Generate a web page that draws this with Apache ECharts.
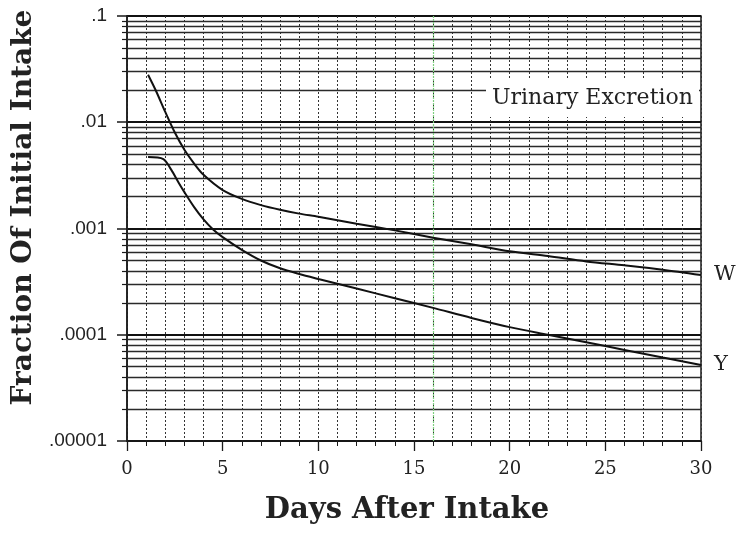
<!DOCTYPE html>
<html>
<head>
<meta charset="utf-8">
<script src="https://cdn.jsdelivr.net/npm/echarts@6/dist/echarts.min.js"></script>
<style>
  html, body { margin: 0; padding: 0; background: #fff; }
  #chart { width: 752px; height: 538px; }
</style>
</head>
<body>
<div id="chart"></div>
<script>
// Urinary excretion curves (fraction of initial intake per day)
const daysW = [1.1, 1.5, 2, 2.5, 3, 3.5, 4, 5, 6, 7, 8, 9, 10, 12, 14, 16, 18, 20, 22, 24, 26, 28, 30];
const fracW = [0.028, 0.020, 0.0125, 0.0080, 0.0055, 0.0041, 0.0032, 0.0023, 0.0019, 0.00166, 0.0015, 0.00138, 0.00129, 0.00111, 0.00096, 0.00082, 0.00071, 0.00061, 0.00055, 0.00049, 0.00045, 0.00041, 0.000365];

const daysY = [1.1, 1.9, 2.3, 2.7, 3, 3.5, 4, 4.5, 5, 6, 7, 8, 9, 10, 12, 14, 16, 18, 20, 22, 24, 26, 28, 30];
const fracY = [0.0047, 0.0045, 0.0036, 0.0027, 0.0022, 0.0016, 0.00122, 0.00098, 0.00083, 0.00063, 0.0005, 0.000422, 0.000373, 0.000335, 0.000272, 0.000221, 0.000179, 0.000144, 0.000118, 0.0001, 0.000085, 0.000072, 0.000061, 0.000052];

const seriesNames = ['W', 'Y'];

// Decade tick labels on the log axis
const decadeValues = [0.00001, 0.0001, 0.001, 0.01, 0.1];
const decadeLabels = ['.00001', '.0001', '.001', '.01', '.1'];

const xLabelStep = 5;
const noteText = 'Urinary Excretion';
const xTitle = 'Days After Intake';
const yTitle = 'Fraction Of Initial Intake';
const highlightedDay = 16;

// Log-paper rulings between decades: 2..9 x 10^k
const minorRulings = [];
for (let k = -5; k <= -2; k++) {
  for (let m = 2; m <= 9; m++) minorRulings.push(+(m * Math.pow(10, k)).toPrecision(3));
}

function decadeLabel(v) {
  const e = Math.round(Math.log10(v));
  const i = decadeValues.findIndex(d => Math.round(Math.log10(d)) === e);
  return i >= 0 ? decadeLabels[i] : '';
}

const serif = 'DejaVu Serif';
const ink = '#1a1a1a';

const chart = echarts.init(document.getElementById('chart'), null, { renderer: 'canvas' });

chart.setOption({
  animation: false,
  backgroundColor: '#fff',
  grid: {
    left: 127, right: 51, top: 16, bottom: 97,
    show: true, borderColor: ink, borderWidth: 1.5, backgroundColor: 'transparent'
  },
  xAxis: {
    type: 'value',
    min: 0, max: 30, interval: xLabelStep,
    name: xTitle,
    nameLocation: 'middle',
    nameGap: 55,
    nameTextStyle: { fontFamily: serif, fontWeight: 'bold', fontSize: 29, color: '#222', padding: [0, 14, 0, 0] },
    axisLine: { show: true, onZero: false, lineStyle: { color: ink, width: 1.5 } },
    axisTick: { show: true, length: 10, lineStyle: { color: ink, width: 1.3 } },
    minorTick: { show: true, splitNumber: 5, length: 5, lineStyle: { color: ink, width: 1 } },
    axisLabel: { fontFamily: serif, fontSize: 18, color: '#222', margin: 19 },
    splitLine: { show: true, lineStyle: { color: '#333', width: 1, type: [2, 2] } },
    minorSplitLine: { show: true, lineStyle: { color: '#333', width: 1, type: [2, 2] } }
  },
  yAxis: [
    {
      type: 'log',
      logBase: 10,
      min: 0.00001, max: 0.1,
      name: yTitle,
      nameLocation: 'middle',
      nameGap: 86,
      nameTextStyle: { fontFamily: serif, fontWeight: 'bold', fontSize: 28, color: '#222', padding: [0, 0, 0, 42] },
      axisLine: { show: true, lineStyle: { color: ink, width: 1.5 } },
      axisTick: { show: true, length: 10, lineStyle: { color: ink, width: 1.5 } },
      axisLabel: { fontFamily: 'Liberation Sans', fontSize: 19, color: '#222', margin: 20, formatter: decadeLabel },
      splitLine: { show: true, lineStyle: { color: '#111', width: 1.8 } }
    },
    {
      type: 'log',
      logBase: 10,
      min: 0.00001, max: 0.1,
      position: 'left',
      axisLine: { show: false },
      axisTick: { show: true, length: 5, customValues: minorRulings, lineStyle: { color: ink, width: 1.2 } },
      axisLabel: { show: false },
      splitLine: { show: false }
    }
  ],
  series: [
    {
      name: seriesNames[0],
      type: 'line',
      data: daysW.map((d, i) => [d, fracW[i]]),
      smooth: 0.3,
      symbol: 'none',
      lineStyle: { color: '#111', width: 2 },
      endLabel: { show: true, formatter: '{a}', fontFamily: serif, fontSize: 21, color: '#222', distance: 13 },
      z: 5,
      markLine: {
        silent: true,
        precision: 8,
        symbol: ['none', 'none'],
        label: { show: false },
        lineStyle: { color: '#2a2a2a', width: 1.3, type: 'solid' },
        emphasis: { disabled: true },
        data: minorRulings.map(v => ({ yAxis: v })).concat([
          { xAxis: highlightedDay, lineStyle: { color: '#7fcf7f', width: 1.2, type: [2, 1] } }
        ])
      }
    },
    {
      name: seriesNames[1],
      type: 'line',
      data: daysY.map((d, i) => [d, fracY[i]]),
      smooth: 0.3,
      symbol: 'none',
      lineStyle: { color: '#111', width: 2 },
      endLabel: { show: true, formatter: '{a}', fontFamily: serif, fontSize: 21, color: '#222', distance: 13 },
      z: 5
    }
  ],
  graphic: [
    {
      type: 'rect',
      z: 100,
      shape: { x: 486, y: 79, width: 213, height: 38 },
      style: { fill: '#fff' }
    },
    {
      type: 'text',
      z: 101,
      x: 492, y: 98,
      style: {
        text: noteText,
        font: '22px "DejaVu Serif"',
        fill: '#222',
        verticalAlign: 'middle',
        align: 'left'
      }
    }
  ]
});
</script>
</body>
</html>
